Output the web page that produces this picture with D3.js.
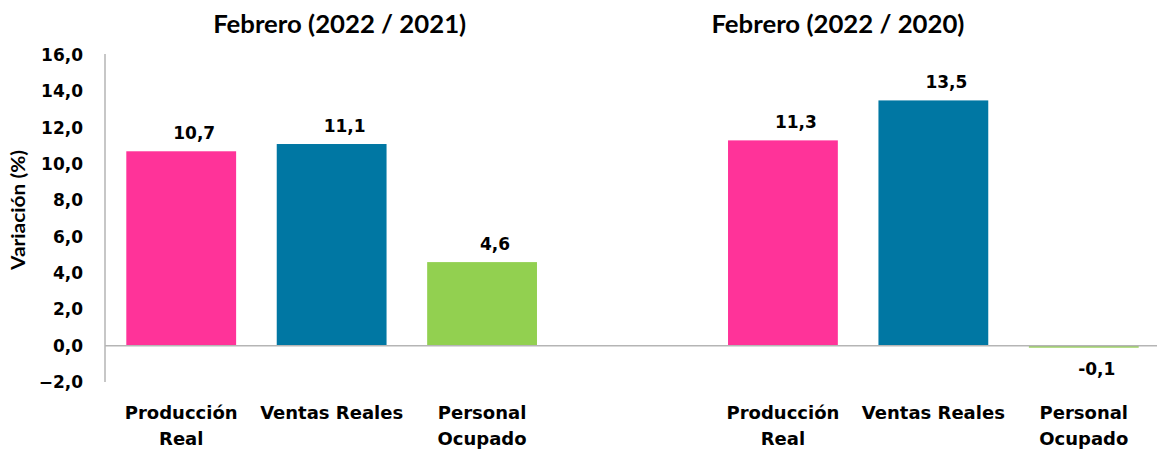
<!DOCTYPE html>
<html>
<head>
<meta charset="utf-8">
<script src="https://cdn.jsdelivr.net/npm/d3@7"></script>
<style>
  html, body { margin: 0; padding: 0; background: #fff; }
  svg { display: block; }
</style>
</head>
<body>
<svg id="chart" width="1159" height="449"></svg>
<script>
// ---- data ----
const groupTitles = ["Febrero (2022 / 2021)", "Febrero (2022 / 2020)"];
const categories = ["Producción Real", "Ventas Reales", "Personal Ocupado"];
const categoryLines = [["Producción", "Real"], ["Ventas Reales"], ["Personal", "Ocupado"]];
const values2022vs2021 = [10.7, 11.1, 4.6];
const values2022vs2020 = [11.3, 13.5, -0.1];
const labels2022vs2021 = ["10,7", "11,1", "4,6"];
const labels2022vs2020 = ["11,3", "13,5", "-0,1"];
const yTickValues = [-2, 0, 2, 4, 6, 8, 10, 12, 14, 16];
const colors = ["#FF3399", "#0077A3", "#92D050"];
const yTitle = "Variación (%)";

// ---- build ----
const slots = ["a0", "a1", "a2", "gap", "b0", "b1", "b2"];
const bars = [];
values2022vs2021.forEach((v, i) => bars.push({slot: "a" + i, v, label: labels2022vs2021[i], cat: i}));
values2022vs2020.forEach((v, i) => bars.push({slot: "b" + i, v, label: labels2022vs2020[i], cat: i}));

const svg = d3.select("#chart");
const x = d3.scaleBand().domain(slots).range([106, 1159]).paddingInner(0.27).paddingOuter(0.135);
const y = d3.scaleLinear().domain([-2, 16]).range([382, 55]);
const cx = s => x(s) + x.bandwidth() / 2;

const axisColor = "#b5b5b5";
const numFont = "'DejaVu Sans', Verdana, sans-serif";
const titleFont = "Lato, 'Open Sans', sans-serif";

// y axis
const yAxis = d3.axisLeft(y).tickValues(yTickValues).tickSize(0).tickPadding(22)
  .tickFormat(d => d3.format(".1f")(d).replace(".", ","));
const gy = svg.append("g").attr("transform", "translate(105,0)").call(yAxis);
gy.select(".domain").attr("stroke", axisColor).attr("stroke-width", 1.5).attr("d", `M0,${y(16) - 1}V${y(-2)}`);
gy.selectAll("text").attr("font-family", numFont).attr("font-weight", "bold")
  .attr("font-size", 17).attr("fill", "#000");

// bars
svg.append("g").selectAll("rect").data(bars).join("rect")
  .attr("x", d => x(d.slot))
  .attr("width", x.bandwidth())
  .attr("y", d => y(Math.max(0, d.v)))
  .attr("height", d => Math.max(2, Math.abs(y(d.v) - y(0))))
  .attr("fill", d => colors[d.cat]);

// zero line
svg.append("line").attr("x1", 105).attr("x2", 1157).attr("y1", y(0)).attr("y2", y(0))
  .attr("stroke", axisColor).attr("stroke-width", 1.5);

// value labels
svg.append("g").selectAll("text").data(bars).join("text")
  .attr("x", d => cx(d.slot) + 13)
  .attr("y", d => d.v >= 0 ? y(d.v) - 12 : y(d.v) + 28)
  .attr("text-anchor", "middle")
  .attr("font-family", numFont).attr("font-weight", "bold").attr("font-size", 17)
  .attr("fill", "#000")
  .text(d => d.label);

// category labels
const catG = svg.append("g").selectAll("text").data(bars).join("text")
  .attr("text-anchor", "middle")
  .attr("font-family", numFont).attr("font-weight", "bold").attr("font-size", 18)
  .attr("fill", "#000");
catG.each(function(d) {
  const t = d3.select(this);
  categoryLines[d.cat].forEach((line, li) => {
    t.append("tspan").attr("x", cx(d.slot)).attr("y", 419 + li * 26).text(line);
  });
});

// group titles
const titleX = [cx("a1") + 8, cx("b0") + 55];
groupTitles.forEach((t, i) => {
  svg.append("text").attr("x", titleX[i]).attr("y", 33).attr("text-anchor", "middle")
    .attr("font-family", titleFont).attr("font-weight", "bold").attr("font-size", 24)
    .attr("textLength", 253).attr("lengthAdjust", "spacingAndGlyphs")
    .attr("fill", "#000").text(t);
});

// y title
svg.append("text").attr("transform", `translate(25,${210}) rotate(-90)`)
  .attr("text-anchor", "middle").attr("font-family", titleFont).attr("font-weight", "bold")
  .attr("font-size", 18).attr("textLength", 120).attr("lengthAdjust", "spacingAndGlyphs")
  .attr("fill", "#000").text(yTitle);
</script>
</body>
</html>
